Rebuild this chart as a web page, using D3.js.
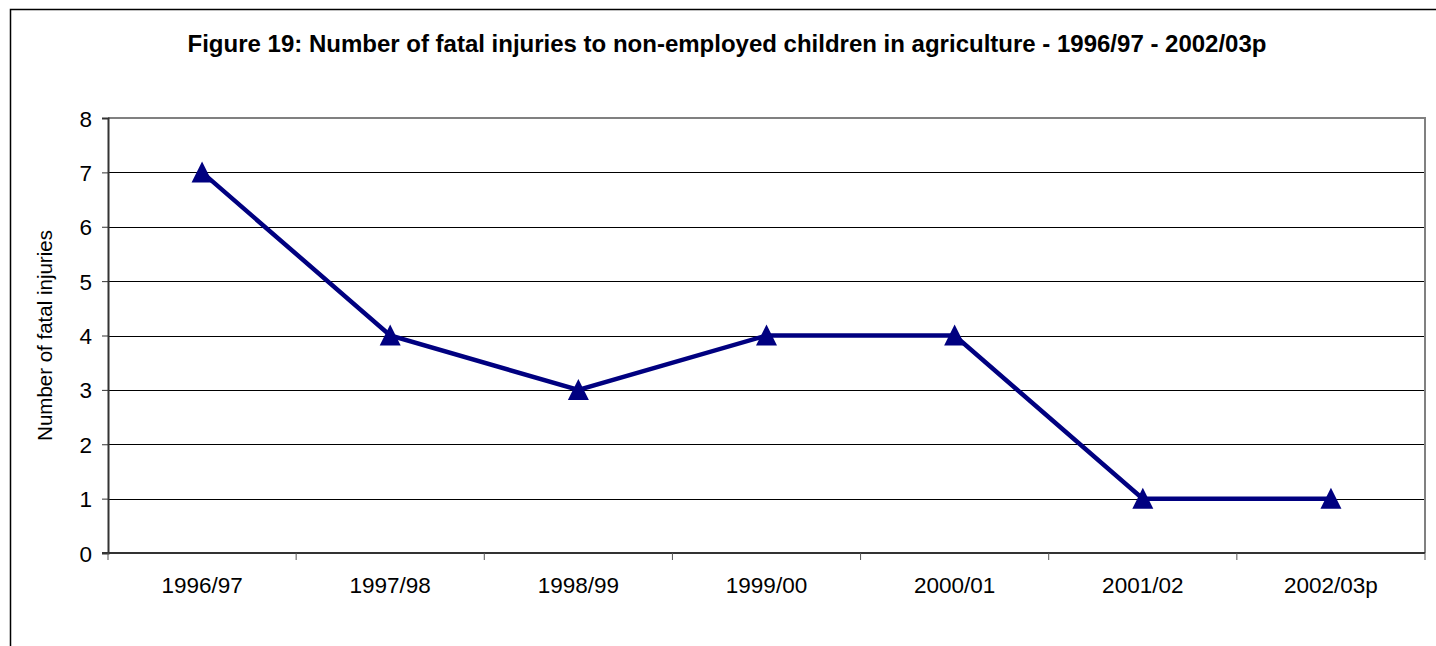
<!DOCTYPE html>
<html>
<head>
<meta charset="utf-8">
<script src="https://cdn.jsdelivr.net/npm/d3@7"></script>
<style>
  body { margin: 0; background: #fff; }
  svg { display: block; font-family: Arial, "Liberation Sans", sans-serif; }
  .tick text { font-size: 22.5px; fill: #000; }
</style>
</head>
<body>
<script>
// chart data
const years = ["1996/97", "1997/98", "1998/99", "1999/00", "2000/01", "2001/02", "2002/03p"]
const fatalities = [7, 4, 3, 4, 4, 1, 1]
const yTicks = [0, 1, 2, 3, 4, 5, 6, 7, 8]

const titleText = "Figure 19: Number of fatal injuries to non-employed children in agriculture - 1996/97 - 2002/03p"
const yLabel = "Number of fatal injuries"

const width = 1436
const height = 646
const plot = { left: 108, right: 1425, top: 118, bottom: 553 }
const NAVY = "#000080"

const svg = d3.select("body").append("svg")
  .attr("width", width)
  .attr("height", height)

// outer chart frame (only top and left edges are visible)
svg.append("path")
  .attr("d", `M10.5,${height} V9.5 H${width}`)
  .attr("fill", "none")
  .attr("stroke", "#000")
  .attr("stroke-width", 1.5)

svg.append("text")
  .attr("x", 727)
  .attr("y", 52)
  .attr("text-anchor", "middle")
  .style("font-size", "24px")
  .style("font-weight", "bold")
  .text(titleText)

const x = d3.scaleBand()
  .domain(years)
  .range([plot.left, plot.right])

const y = d3.scaleLinear()
  .domain([0, 8])
  .range([plot.bottom, plot.top])

// horizontal gridlines
svg.append("g")
  .selectAll("line")
  .data(yTicks.filter(d => d > 0 && d < 8))
  .enter().append("line")
    .attr("x1", plot.left)
    .attr("x2", plot.right)
    .attr("y1", d => Math.round(y(d)) + 0.5)
    .attr("y2", d => Math.round(y(d)) + 0.5)
    .attr("stroke", "#000")
    .attr("stroke-width", 1)

// plot area top / right border
svg.append("path")
  .attr("d", `M${plot.left},${plot.top} H${plot.right} V${plot.bottom}`)
  .attr("fill", "none")
  .attr("stroke", "#808080")
  .attr("stroke-width", 2)

// y axis
const yAxis = svg.append("g")
  .attr("transform", `translate(${plot.left},0)`)
  .call(d3.axisLeft(y).tickValues(yTicks).tickSize(6).tickPadding(10).tickFormat(d3.format("d")))
yAxis.select(".domain").attr("stroke", "#333").attr("stroke-width", 2)
yAxis.selectAll(".tick line").attr("stroke", "#333")
yAxis.selectAll(".tick text").attr("dy", "0.36em")

// x axis, ticks sit between categories
const xAxis = svg.append("g")
  .attr("transform", `translate(0,${plot.bottom})`)
  .call(d3.axisBottom(x).tickSize(0).tickPadding(24))
xAxis.select(".domain").remove()
xAxis.append("line")
  .attr("x1", plot.left - 6)
  .attr("x2", plot.right)
  .attr("stroke", "#333")
  .attr("stroke-width", 2)

svg.append("g")
  .selectAll("line")
  .data(d3.range(years.length + 1))
  .enter().append("line")
    .attr("x1", i => plot.left + i * x.step())
    .attr("x2", i => plot.left + i * x.step())
    .attr("y1", plot.bottom)
    .attr("y2", plot.bottom + 7)
    .attr("stroke", "#555")
    .attr("stroke-width", 1)

svg.append("text")
  .attr("transform", `translate(45,${(plot.top + plot.bottom) / 2}) rotate(-90)`)
  .attr("text-anchor", "middle")
  .attr("dy", "0.35em")
  .style("font-size", "20.5px")
  .text(yLabel)

// series line
const line = d3.line()
  .x((d, i) => x(years[i]) + x.bandwidth() / 2)
  .y(d => y(d))

svg.append("path")
  .datum(fatalities)
  .attr("d", line)
  .attr("fill", "none")
  .attr("stroke", NAVY)
  .attr("stroke-width", 4.5)
  .attr("stroke-linejoin", "miter")

// triangle markers
svg.append("g")
  .selectAll("path")
  .data(fatalities)
  .enter().append("path")
    .attr("transform", (d, i) => `translate(${x(years[i]) + x.bandwidth() / 2},${y(d)})`)
    .attr("d", "M0,-11 L10.5,10 L-10.5,10 Z")
    .attr("fill", NAVY)
</script>
</body>
</html>
